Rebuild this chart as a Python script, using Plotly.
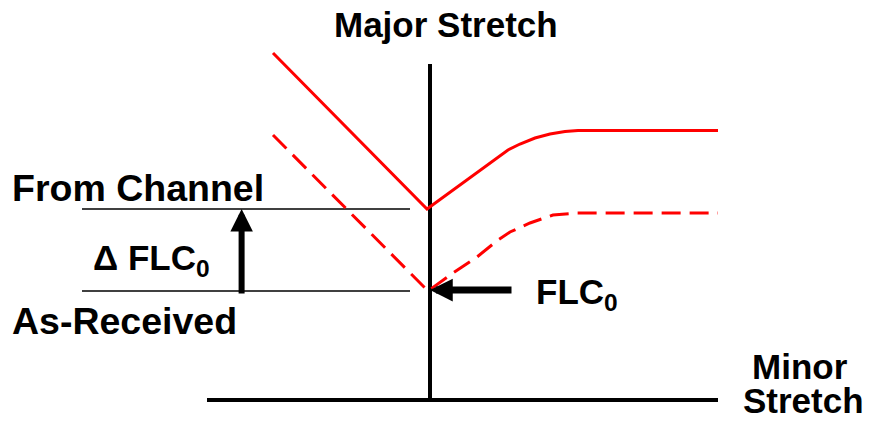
import plotly.graph_objects as go

# ---- data (strain units; origin = intersection of the axes) ----
minor_channel = [-39.25, -0.75, 19.5, 22.5, 26.25, 30.0, 33.75, 37.0, 72.0]
major_channel = [86.75, 47.75, 62.5, 64.0, 65.5, 66.5, 67.1, 67.4, 67.4]

minor_received = [-39.25, -0.5, 5.75, 11.75, 17.0, 20.0, 25.0, 30.75, 36.75, 72.0]
major_received = [66.25, 27.25, 31.75, 35.75, 40.0, 42.0, 44.25, 46.25, 46.75, 46.75]

flc0_channel = 47.75
flc0_received = 27.25

minor_axis_extent = [-55.75, 72.0]
major_axis_extent = [0.0, 84.0]

FONT = dict(family="Liberation Sans, Arial, sans-serif", size=35, color="black", weight="bold")
FONT_L = dict(FONT, size=37.5)

fig = go.Figure()

fig.add_trace(go.Scatter(x=minor_channel, y=major_channel, mode="lines",
                         line=dict(color="#ff0000", width=3), hoverinfo="skip"))
fig.add_trace(go.Scatter(x=minor_received, y=major_received, mode="lines",
                         line=dict(color="#ff0000", width=3, dash="19px,9px"), hoverinfo="skip"))

# axes
fig.add_shape(type="line", x0=minor_axis_extent[0], x1=minor_axis_extent[1], y0=0, y1=0,
              line=dict(color="black", width=4), layer="below")
fig.add_shape(type="line", x0=0, x1=0, y0=major_axis_extent[0], y1=major_axis_extent[1],
              line=dict(color="black", width=4), layer="below")

# FLC0 reference levels
for lvl in (flc0_channel, flc0_received):
    fig.add_shape(type="line", x0=-87, x1=-5, y0=lvl, y1=lvl,
                  line=dict(color="black", width=1.3), layer="below")

# arrows
fig.add_annotation(x=-47.1, y=flc0_channel, ax=-47.1, ay=26.25, axref="x", ayref="y",
                   xref="x", yref="y", text="", showarrow=True, arrowhead=2,
                   arrowwidth=6, arrowsize=0.75, arrowcolor="black", standoff=0, startstandoff=0)
fig.add_annotation(x=0, y=27.5, ax=20.75, ay=27.5, axref="x", ayref="y",
                   xref="x", yref="y", text="", showarrow=True, arrowhead=2,
                   arrowwidth=7, arrowsize=0.65, arrowcolor="black", standoff=0, startstandoff=0)

labels = [
    ("Major Stretch", 4.0, 94.0, "center", FONT),
    ("From Channel", -105.0, 53.0, "left", FONT_L),
    ("\u0394 FLC<sub>0</sub>", -84.75, 35.0, "left", FONT),
    ("As-Received", -105.0, 19.75, "left", FONT_L),
    ("FLC<sub>0</sub>", 26.0, 26.5, "left", FONT),
    ("Minor", 92.5, 8.5, "center", FONT),
    ("Stretch", 93.25, 0.0, "center", FONT),
]
for txt, x, y, xa, f in labels:
    fig.add_annotation(x=x, y=y, xref="x", yref="y", text=txt, showarrow=False,
                       xanchor=xa, yanchor="middle", font=f)

fig.update_layout(
    width=869, height=424, autosize=False,
    margin=dict(l=0, r=0, t=0, b=0),
    paper_bgcolor="white", plot_bgcolor="white",
    showlegend=False,
    xaxis=dict(range=[-107.5, 109.75], visible=False, fixedrange=True),
    yaxis=dict(range=[-6, 100], visible=False, fixedrange=True),
)

fig.write_html("out.html", config={"displayModeBar": False},
               post_script="document.body.style.margin='0';")
